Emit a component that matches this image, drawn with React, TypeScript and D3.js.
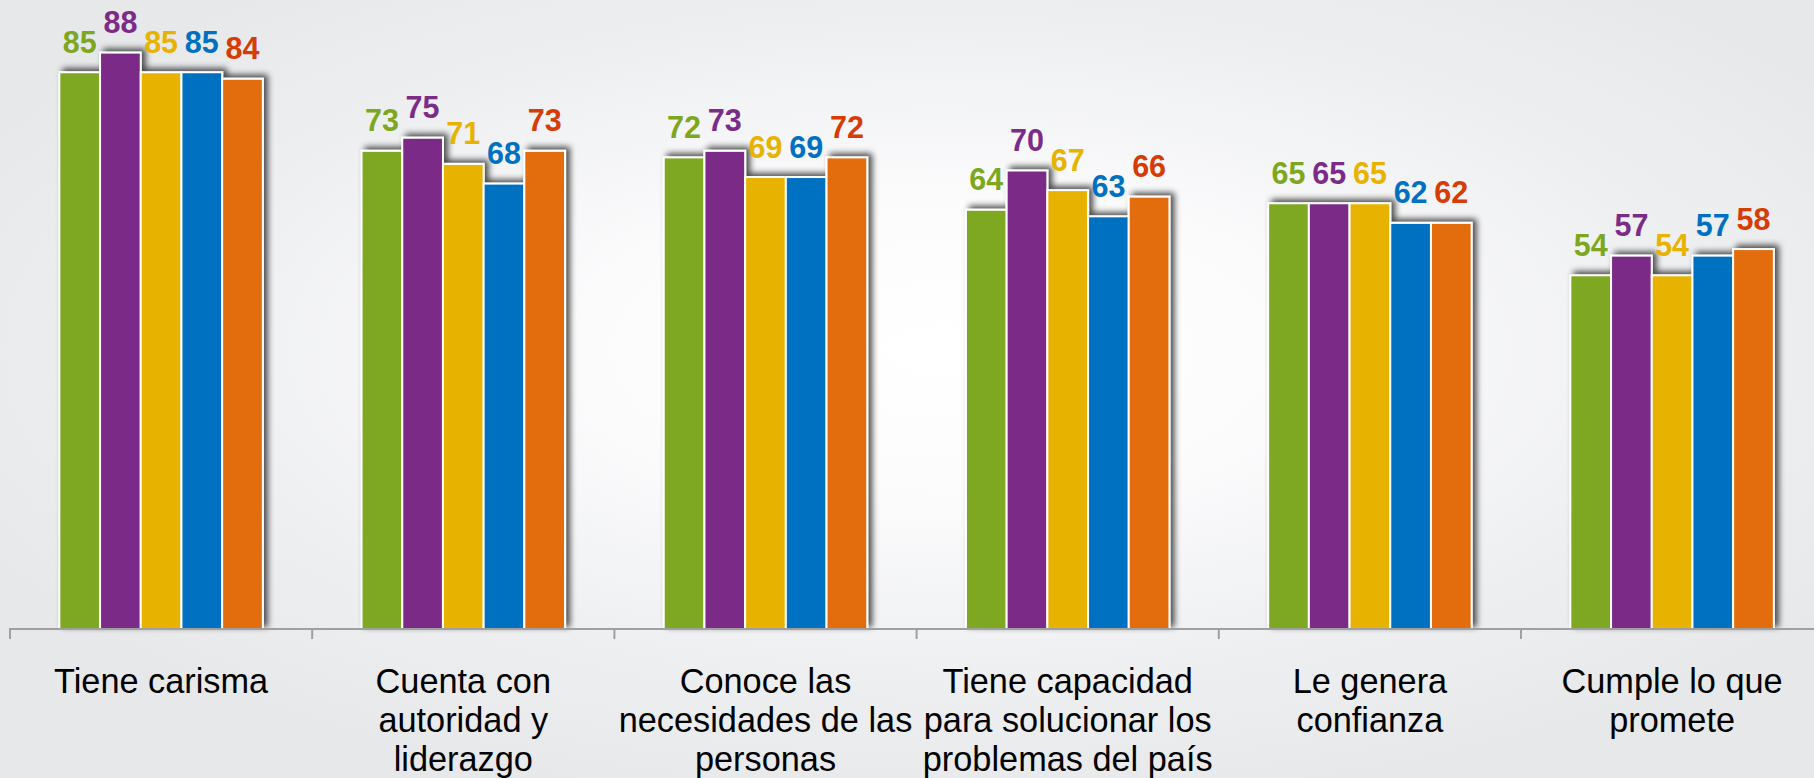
import React from "react";
import * as d3 from "d3";

const categories: string[][] = [
  ["Tiene carisma"],
  ["Cuenta con", "autoridad y", "liderazgo"],
  ["Conoce las", "necesidades de las", "personas"],
  ["Tiene capacidad", "para solucionar los", "problemas del país"],
  ["Le genera", "confianza"],
  ["Cumple lo que", "promete"],
];
const seriesNames = ["s1", "s2", "s3", "s4", "s5"];
const s1 = [85, 73, 72, 64, 65, 54];
const s2 = [88, 75, 73, 70, 65, 57];
const s3 = [85, 71, 69, 67, 65, 54];
const s4 = [85, 68, 69, 63, 62, 57];
const s5 = [84, 73, 72, 66, 62, 58];
const seriesValues = [s1, s2, s3, s4, s5];
const barColors = ["#7EA721", "#7B2C88", "#E8B300", "#0071C1", "#E36C0B"];
const labelColors = ["#7EA721", "#7B2C88", "#E8B300", "#0071C1", "#D63C06"];

const W = 1814;
const H = 778;

export default function App() {
  const idx = categories.map((_, i) => String(i));
  const bandW = 302.2;
  const x0 = d3.scaleBand().domain(idx).range([10, 10 + bandW * 6]).padding(0);
  const groupW = 203.5;
  const bw = x0.bandwidth();
  const x1 = d3
    .scaleBand()
    .domain(seriesNames)
    .range([(bw - groupW) / 2, (bw + groupW) / 2])
    .padding(0);
  const y = d3.scaleLinear().domain([0, 100]).range([629, 629 - 655]);
  const font = "'Liberation Sans', Arial, Helvetica, sans-serif";

  return (
    <svg
      width={W}
      height={H}
      style={{ position: "absolute", left: 0, top: 0, display: "block" }}
    >
      <defs>
        <radialGradient id="bg" cx="52%" cy="45%" r="60%" fx="52%" fy="45%">
          <stop offset="0" stopColor="#FFFFFF" />
          <stop offset="0.3" stopColor="#FCFCFD" />
          <stop offset="0.7" stopColor="#EEEFF1" />
          <stop offset="1" stopColor="#E7E8EA" />
        </radialGradient>
        <filter id="shadow" x="-30%" y="-10%" width="160%" height="120%">
          <feGaussianBlur in="SourceAlpha" stdDeviation="3" />
          <feOffset dx="4" dy="-3" result="blur" />
          <feComponentTransfer>
            <feFuncA type="linear" slope="0.7" />
          </feComponentTransfer>
          <feMerge>
            <feMergeNode />
            <feMergeNode in="SourceGraphic" />
          </feMerge>
        </filter>
      </defs>
      <rect x={0} y={0} width={W} height={H} fill="url(#bg)" />
      {categories.map((_, ci) => (
        <g key={ci} transform={`translate(${x0(String(ci))},0)`}>
          <g filter="url(#shadow)">
            {seriesNames.map((s, si) => {
              const v = seriesValues[si][ci];
              return (
                <rect
                  key={s}
                  x={x1(s)!}
                  y={y(v)}
                  width={x1.bandwidth()}
                  height={y(0) - y(v)}
                  fill={barColors[si]}
                  stroke="#FFFFFF"
                  strokeWidth={2}
                />
              );
            })}
          </g>
          {seriesNames.map((s, si) => {
            const v = seriesValues[si][ci];
            return (
              <text
                key={s}
                x={x1(s)! + x1.bandwidth() / 2}
                y={y(v) - 19.5}
                textAnchor="middle"
                fontFamily={font}
                fontWeight="bold"
                fontSize={30.5}
                fill={labelColors[si]}
              >
                {v}
              </text>
            );
          })}
        </g>
      ))}
      <line x1={10} x2={10 + bandW * 6} y1={629} y2={629} stroke="#A0A0A0" strokeWidth={2} />
      {d3.range(7).map((i) => {
        const tx = 10 + i * bandW;
        return <line key={i} x1={tx} x2={tx} y1={628} y2={639} stroke="#A0A0A0" strokeWidth={2} />;
      })}
      {categories.map((lines, ci) => (
        <text
          key={ci}
          x={x0(String(ci))! + bw / 2}
          y={692.5}
          textAnchor="middle"
          fontFamily={font}
          fontSize={34.3}
          fill="#000000"
        >
          {lines.map((l, li) => (
            <tspan key={li} x={x0(String(ci))! + bw / 2} y={692.5 + li * 39.3}>
              {l}
            </tspan>
          ))}
        </text>
      ))}
    </svg>
  );
}
